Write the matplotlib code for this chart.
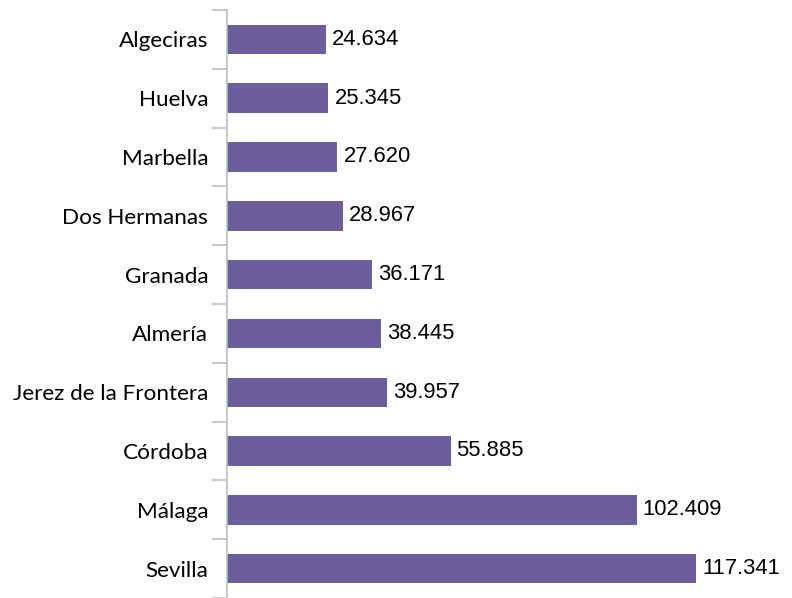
import matplotlib
matplotlib.use("Agg")
import matplotlib.pyplot as plt
import numpy as np

categories = ["Sevilla", "Málaga", "Córdoba", "Jerez de la Frontera", "Almería",
              "Granada", "Dos Hermanas", "Marbella", "Huelva", "Algeciras"]
values = [117.341, 102.409, 55.885, 39.957, 38.445, 36.171, 28.967, 27.620, 25.345, 24.634]
labels = ["117.341", "102.409", "55.885", "39.957", "38.445", "36.171", "28.967", "27.620", "25.345", "24.634"]

W, H = 792, 598
fig = plt.figure(figsize=(W / 100, H / 100), dpi=100)
ax = fig.add_axes([227 / W, 0, 560 / W, 588 / H])

y = np.arange(len(categories))
bars = ax.barh(y, values, height=0.5, color="#6B5E9B")
ax.set_xlim(0, 140)
ax.set_ylim(-0.5, len(categories) - 0.5)

for b, lab in zip(bars, labels):
    ax.text(b.get_width() + 1.5, b.get_y() + b.get_height() / 2, lab,
            va="center", ha="left", fontsize=15.8, family="Liberation Sans", color="black")

ax.set_yticks(y)
ax.set_yticklabels(categories, fontsize=16.2, family="Lato")
ax.tick_params(axis="y", which="major", length=0, pad=13.5)
ax.set_yticks(np.arange(-0.5, len(categories), 1), minor=True)
ax.tick_params(axis="y", which="minor", length=11, color="#BFBFBF", width=1.2)
ax.set_xticks([])
for s in ["top", "right", "bottom"]:
    ax.spines[s].set_visible(False)
ax.spines["left"].set_color("#BFBFBF")
ax.spines["left"].set_linewidth(1.2)

fig.savefig("out.png", dpi=100)
